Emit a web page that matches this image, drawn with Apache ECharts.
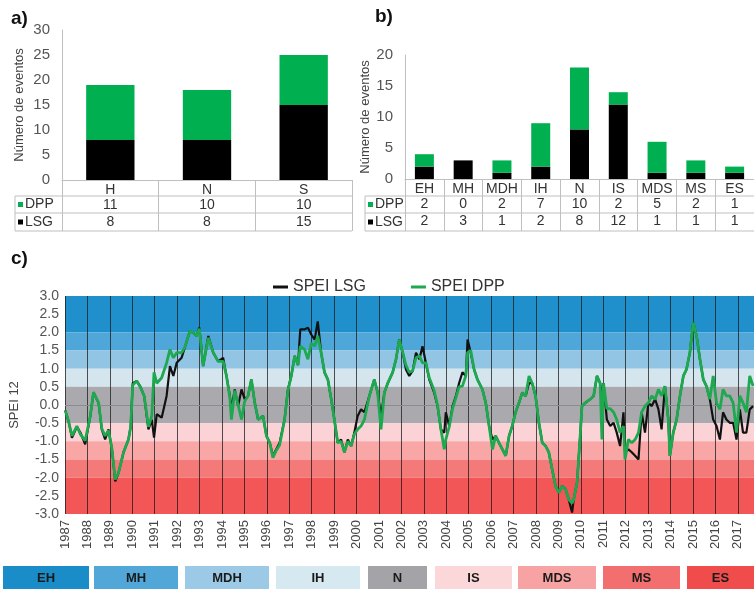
<!DOCTYPE html>
<html>
<head>
<meta charset="utf-8">
<script src="https://cdn.jsdelivr.net/npm/echarts/dist/echarts.min.js"></script>
<style>
html, body { margin: 0; padding: 0; background: #fff; }
#main { width: 754px; height: 589px; }
</style>
</head>
<body>
<div id="main"></div>
<script>
// a) eventos por región
var regiones = ['H', 'N', 'S'];
var dppRegion = [11, 10, 10];
var lsgRegion = [8, 8, 15];

// b) eventos por clase SPEI
var clases = ['EH', 'MH', 'MDH', 'IH', 'N', 'IS', 'MDS', 'MS', 'ES'];
var dppClase = [2, 0, 2, 7, 10, 2, 5, 2, 1];
var lsgClase = [2, 3, 1, 2, 8, 12, 1, 1, 1];

// c) SPEI 12 (fecha en años decimales)
var fechas = [
	1987.01,1987.16,1987.31,1987.53,1987.68,1987.90,
	1988.13,1988.27,1988.50,1988.64,1988.79,1988.94,
	1989.09,1989.24,1989.39,1989.61,1989.83,1989.93,
	1990.02,1990.20,1990.35,1990.53,1990.72,1990.87,1990.97,
	1991.09,1991.31,1991.53,1991.68,1991.83,1991.98,
	1992.20,1992.35,1992.57,1992.72,1992.87,1992.99,
	1993.16,1993.39,1993.61,1993.83,
	1994.05,1994.20,1994.35,1994.42,1994.57,1994.72,1994.87,
	1995.01,1995.16,1995.31,1995.46,1995.61,1995.83,1995.98,
	1996.13,1996.27,1996.42,1996.57,1996.79,1996.94,
	1997.09,1997.24,1997.39,1997.49,1997.68,1997.83,1997.98,
	1998.13,1998.27,1998.42,1998.57,1998.72,1998.87,
	1999.01,1999.16,1999.31,1999.46,1999.61,1999.76,1999.90,
	2000.05,2000.20,2000.35,2000.57,2000.79,2000.94,
	2001.09,2001.24,2001.39,2001.61,2001.76,2001.90,
	2002.06,2002.20,2002.35,2002.50,2002.65,2002.80,2002.94,
	2003.09,2003.24,2003.46,2003.61,2003.76,2003.91,2003.98,
	2004.13,2004.28,2004.43,2004.57,2004.72,2004.87,2004.95,
	2005.09,2005.24,2005.39,2005.61,2005.76,2005.91,
	2006.06,2006.20,2006.35,2006.50,2006.65,2006.80,2006.94,
	2007.09,2007.24,2007.39,2007.54,2007.69,2007.83,2007.98,
	2008.13,2008.28,2008.43,2008.57,2008.72,2008.87,
	2009.02,2009.17,2009.32,2009.46,2009.61,2009.68,2009.83,2009.97,
	2010.05,2010.20,2010.42,2010.57,2010.72,2010.86,2010.94,
	2011.01,2011.16,2011.31,2011.46,2011.60,2011.75,2011.90,2011.97,
	2012.12,2012.27,2012.42,2012.57,2012.71,2012.86,
	2013.01,2013.16,2013.31,2013.46,2013.60,2013.75,2013.90,2013.97,
	2014.12,2014.27,2014.42,2014.57,2014.71,2014.86,
	2015.01,2015.16,2015.31,2015.46,2015.60,2015.75,2015.90,
	2016.05,2016.20,2016.34,2016.49,2016.64,2016.79,2016.94,
	2017.09,2017.23,2017.38,2017.53,2017.68
];
var speiLsg = [
	-0.15,-0.45,-0.9,-0.6,-0.75,-1.08,
	-0.3,0.35,0.05,-0.67,-0.95,-0.67,
	-1.2,-2.1,-1.86,-1.3,-0.95,-0.58,
	0.6,0.66,0.52,0.25,-0.67,-0.4,-0.9,
	-0.25,-0.35,0.25,1.07,0.8,1.16,
	1.3,1.6,2.04,1.99,1.9,2.13,
	1.07,1.9,1.44,1.2,
	1.3,0.8,0.25,-0.1,0.43,-0.03,0.43,
	0.16,0.25,0.7,0.06,-0.4,-0.3,-0.85,
	-1.04,-1.4,-1.22,-1.04,-0.4,0.43,
	0.8,1.35,1.1,2.08,2.08,2.13,1.94,
	1.8,2.3,1.44,0.9,0.7,0.16,
	-0.4,-1.04,-0.95,-1.3,-0.95,-1.13,-0.76,
	-0.3,-0.12,-0.2,0.25,0.7,0.34,
	-0.3,0.34,0.6,0.9,1.26,1.8,
	1.44,0.98,0.8,0.94,1.44,1.26,1.62,
	1.16,0.7,0.34,-0.03,-0.67,-0.76,-0.2,
	-0.58,-0.03,0.25,0.6,0.9,0.8,1.8,
	1.44,0.98,0.7,0.43,0.06,-0.58,
	-0.95,-0.85,-1.04,-1.22,-1.4,-0.85,-0.58,
	-0.2,0.06,0.34,0.25,0.6,0.6,0.25,
	-0.49,-1.04,-1.13,-1.3,-1.77,-2.23,
	-2.41,-2.23,-2.32,-2.6,-2.96,-2.6,-2.14,-0.85,
	-0.03,0.06,0.16,0.25,0.8,0.6,0.25,
	0.6,-0.4,-0.58,-0.49,-0.76,-1.13,-0.2,-1.3,
	-1.22,-1.3,-1.4,-1.5,-0.2,-0.76,
	0.06,-0.03,0.16,-0.12,-0.67,0.52,-0.4,-1.4,
	-0.76,-0.4,0.25,0.8,0.98,1.44,
	2.27,1.9,1.26,0.7,0.52,0.16,-0.4,
	-0.58,-0.95,-0.2,-0.4,-0.49,-0.49,-0.95,
	-0.12,-0.76,-0.76,-0.12,-0.03
];
var speiDpp = [
	-0.15,-0.45,-0.85,-0.58,-0.8,-0.98,
	-0.3,0.35,0.06,-0.65,-0.85,-0.7,
	-1.2,-2.05,-1.86,-1.3,-0.95,-0.6,
	0.55,0.66,0.5,0.25,-0.6,-0.3,0.9,
	0.6,0.75,1.16,1.53,1.3,1.44,
	1.44,1.6,2.04,1.99,1.9,2.1,
	1.07,1.85,1.44,1.2,
	1.2,0.8,0.2,-0.4,0.4,0.0,-0.4,
	0.1,0.25,0.7,0.06,-0.4,-0.3,-0.85,
	-1.04,-1.45,-1.25,-1.1,-0.4,0.4,
	0.8,1.35,1.1,1.62,1.53,1.26,1.7,
	1.62,1.9,1.44,0.9,0.7,0.16,
	-0.4,-1.04,-1.0,-1.3,-1.0,-1.13,-0.8,
	-0.67,-0.58,-0.4,0.25,0.7,0.34,
	-0.67,0.34,0.6,0.9,1.26,1.8,
	1.44,1.1,0.9,0.94,1.3,1.35,1.16,
	1.16,0.75,0.4,0.0,-0.67,-1.22,-0.95,
	-0.6,-0.1,0.2,0.5,0.52,0.8,1.44,
	1.5,0.98,0.7,0.43,0.06,-0.58,
	-1.22,-0.85,-1.04,-1.22,-1.4,-0.85,-0.58,
	-0.2,0.06,0.34,0.25,0.8,0.6,0.25,
	-0.49,-1.04,-1.13,-1.3,-1.77,-2.23,
	-2.41,-2.23,-2.32,-2.6,-2.7,-2.6,-2.14,-0.85,
	-0.03,0.06,0.16,0.25,0.8,0.6,-0.95,
	0.6,-0.1,-0.1,-0.2,-0.4,-0.76,-0.58,-1.5,
	-0.95,-1.04,-0.95,-0.76,-0.2,-0.03,
	0.06,0.25,0.16,0.43,0.25,0.52,-0.4,-1.4,
	-0.76,-0.4,0.25,0.8,0.98,1.44,
	2.27,1.9,1.26,0.7,0.52,0.16,0.8,
	0.06,-0.12,0.43,0.25,0.25,0.06,-0.76,
	0.25,0.06,-0.2,0.8,0.52
];

// límites de las clases SPEI (de EH a ES)
var limitesSpei = [3, 2, 1.5, 1, 0.5, -0.5, -1, -1.5, -2, -3];

var verde = '#00b050';
var verdeLinea = '#1ea84f';
var gris = '#bfbfbf';
var fuente = '"Liberation Sans", Arial, sans-serif';
var coloresBanda = ['#1f90cb', '#4fa7d9', '#92c5e3', '#d4e5ee', '#aaaaae', '#fbd3d7', '#f8a6a6', '#f47a7a', '#f25656'];
var coloresClave = ['#1a8cc8', '#52a7d9', '#9ccae6', '#d6e8f0', '#a4a4a8', '#fcd7da', '#f8a3a3', '#f36f6f', '#f04c4c'];

var dom = document.getElementById('main');
var myChart = echarts.init(dom);

// bandas de fondo de la gráfica c
var bandas = [];
for (var i = 0; i < coloresBanda.length; i++) {
	bandas.push([
		{ yAxis: limitesSpei[i], itemStyle: { color: coloresBanda[i] } },
		{ yAxis: limitesSpei[i + 1] }
	]);
}

function tabla(cat, dpp, lsg) {
	return function (v, i) {
		return '{h|' + v + '}\n{d|' + dpp[i] + '}\n{l|' + lsg[i] + '}';
	};
}
var richTabla = {
	h: { lineHeight: 15 },
	d: { lineHeight: 15 },
	l: { lineHeight: 19 }
};

// líneas y rótulos de las tablas
var graficos = [];
function marcoTabla(x0, x1) {
	[196, 213, 231].forEach(function (y) {
		graficos.push({ type: 'line', shape: { x1: x0, y1: y, x2: x1, y2: y }, style: { stroke: gris, lineWidth: 1 } });
	});
	graficos.push({ type: 'line', shape: { x1: x0, y1: 196, x2: x0, y2: 231 }, style: { stroke: gris, lineWidth: 1 } });
	[[204.5, verde, 'DPP'], [222, '#000', 'LSG']].forEach(function (r) {
		graficos.push({ type: 'rect', shape: { x: x0 + 3, y: r[0] - 2.5, width: 5, height: 5 }, style: { fill: r[1] } });
		graficos.push({ type: 'text', x: x0 + 10, y: r[0], style: { text: r[2], font: '14px ' + fuente, fill: '#333', verticalAlign: 'middle' } });
	});
}
marcoTabla(15, 352);
marcoTabla(365, 754);

// clave de colores inferior
var anchosClave = [[3, 89], [94, 178], [185, 269], [276, 360], [368, 427], [435, 512], [518, 596], [603, 680], [687, 754]];
clases.forEach(function (c, i) {
	var a = anchosClave[i];
	graficos.push({ type: 'rect', shape: { x: a[0], y: 566, width: a[1] - a[0], height: 23 }, style: { fill: coloresClave[i] } });
	graficos.push({ type: 'text', x: (a[0] + a[1]) / 2, y: 578, style: { text: c, font: 'bold 13px ' + fuente, fill: '#1a1a1a', align: 'center', verticalAlign: 'middle' } });
});

var ejeValor = {
	axisLine: { show: true, lineStyle: { color: gris } },
	axisTick: { show: false },
	splitLine: { show: false },
	axisLabel: { fontSize: 15, color: '#555', margin: 12 },
	nameLocation: 'middle',
	nameTextStyle: { fontSize: 13, color: '#444' }
};

option = {
	animation: false,
	textStyle: { fontFamily: fuente },
	title: [
		{ text: 'a)', left: 6, top: 4, textStyle: { fontSize: 19, fontWeight: 'bold', color: '#111' } },
		{ text: 'b)', left: 370, top: 2, textStyle: { fontSize: 19, fontWeight: 'bold', color: '#111' } },
		{ text: 'c)', left: 6, top: 244, textStyle: { fontSize: 19, fontWeight: 'bold', color: '#111' } }
	],
	legend: {
		data: ['SPEI LSG', 'SPEI DPP'],
		top: 274,
		left: 268,
		icon: 'rect',
		itemWidth: 15,
		itemHeight: 3,
		itemGap: 45,
		textStyle: { fontSize: 16, color: '#333' }
	},
	grid: [
		{ left: 62, top: 30, width: 290, height: 150 },
		{ left: 405, top: 55, width: 349, height: 124 },
		{ left: 63, top: 296, width: 691, height: 218 }
	],
	xAxis: [{
		type: 'category',
		gridIndex: 0,
		data: regiones,
		axisLine: { lineStyle: { color: gris } },
		axisTick: { show: true, length: 51, lineStyle: { color: gris } },
		axisLabel: { interval: 0, margin: 3, fontSize: 14, color: '#333', formatter: tabla(regiones, dppRegion, lsgRegion), rich: richTabla }
	}, {
		type: 'category',
		gridIndex: 1,
		data: clases,
		axisLine: { lineStyle: { color: gris } },
		axisTick: { show: true, length: 52, lineStyle: { color: gris } },
		axisLabel: { interval: 0, margin: 3, fontSize: 14, color: '#333', formatter: tabla(clases, dppClase, lsgClase), rich: richTabla }
	}, {
		type: 'value',
		gridIndex: 2,
		min: 1987,
		max: 2017.72,
		interval: 1,
		z: 3,
		axisLine: { show: false },
		axisTick: { show: false },
		splitLine: { show: true, lineStyle: { color: 'rgba(25,25,25,0.75)', width: 1 } },
		axisLabel: {
			rotate: 90, fontSize: 13, color: '#444', margin: 6, showMaxLabel: false,
			formatter: function (v) { return Math.abs(v - Math.round(v)) < 1e-6 ? String(Math.round(v)) : ''; }
		}
	}],
	yAxis: [
		echarts.util.merge({ type: 'value', gridIndex: 0, min: 0, max: 30, interval: 5, name: 'Número de eventos', nameGap: 36 }, ejeValor),
		echarts.util.merge({ type: 'value', gridIndex: 1, min: 0, max: 20, interval: 5, name: 'Número de eventos', nameGap: 33 }, ejeValor),
		{
			type: 'value',
			gridIndex: 2,
			min: -3,
			max: 3,
			interval: 0.5,
			axisLine: { show: false },
			axisTick: { show: false },
			splitLine: { show: false },
			axisLabel: { fontSize: 14, color: '#555', margin: 6, formatter: function (v) { return v.toFixed(1); } },
			name: 'SPEI 12',
			nameLocation: 'middle',
			nameGap: 44,
			nameTextStyle: { fontSize: 13, color: '#444' }
		}
	],
	graphic: graficos,
	series: [{
		name: 'LSG', type: 'bar', xAxisIndex: 0, yAxisIndex: 0, stack: 'a', barWidth: '50%',
		data: lsgRegion, itemStyle: { color: '#000' }
	}, {
		name: 'DPP', type: 'bar', xAxisIndex: 0, yAxisIndex: 0, stack: 'a', barWidth: '50%',
		data: dppRegion, itemStyle: { color: verde }
	}, {
		name: 'LSG', type: 'bar', xAxisIndex: 1, yAxisIndex: 1, stack: 'b', barWidth: 19,
		data: lsgClase, itemStyle: { color: '#000' }
	}, {
		name: 'DPP', type: 'bar', xAxisIndex: 1, yAxisIndex: 1, stack: 'b', barWidth: 19,
		data: dppClase, itemStyle: { color: verde }
	}, {
		// fondo de clases
		type: 'line', xAxisIndex: 2, yAxisIndex: 2, z: 1, data: [],
		markArea: { silent: true, data: bandas },
		markLine: {
			silent: true, symbol: 'none', label: { show: false },
			lineStyle: { color: '#8c8c90', type: 'solid', width: 1 },
			data: [{ yAxis: 0 }]
		}
	}, {
		name: 'SPEI LSG', type: 'line', xAxisIndex: 2, yAxisIndex: 2, z: 5,
		showSymbol: false, color: '#111',
		lineStyle: { color: '#111', width: 2.2 },
		data: fechas.map(function (t, i) { return [t, speiLsg[i]]; })
	}, {
		name: 'SPEI DPP', type: 'line', xAxisIndex: 2, yAxisIndex: 2, z: 6,
		showSymbol: false, color: verdeLinea,
		lineStyle: { color: verdeLinea, width: 2.8 },
		data: fechas.map(function (t, i) { return [t, speiDpp[i]]; })
	}]
};
if (option && typeof option === "object") {
	myChart.setOption(option, true);
}
</script>
</body>
</html>
